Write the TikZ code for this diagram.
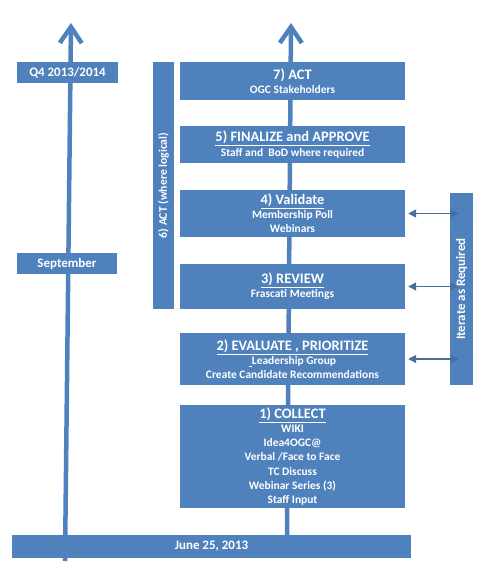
\documentclass[tikz,border=0pt]{standalone}
\usepackage{fontspec}
\setmainfont{Carlito}
\usetikzlibrary{arrows.meta}
\definecolor{steel}{HTML}{4F81BD}
\definecolor{steeldark}{HTML}{4A6D9C}
\newcommand\phasetitle[1]{{\fontsize{14.5}{17}\selectfont\bfseries\underline{#1}}\\}

\begin{document}
\begin{tikzpicture}[
  x=1bp, y=-1bp,
  phase/.style={fill=steel, text=white, align=center,
                inner sep=0pt, minimum width=225bp,
                font=\fontsize{11.5}{14.2}\selectfont\bfseries},
  datebox/.style={fill=steel, text=white, inner sep=0pt,
                  minimum height=21bp,
                  font=\fontsize{13}{15}\selectfont\bfseries},
  sidebar/.style={fill=steel, text=white, inner sep=0pt, rotate=90,
                  font=\fontsize{13}{15}\selectfont\bfseries},
  timeline/.style={draw=steel, line width=4.5bp,
                   -{Straight Barb[length=16bp,width=22bp]}},
  swap/.style={{Triangle[length=8bp,width=8bp]}-{Triangle[length=8bp,width=8bp]},
               draw=steeldark, fill=steeldark, line width=1.4bp},
]
\useasboundingbox (0,0) rectangle (487,574);

% the two time lines, behind everything
\coordinate (baseL) at (65,561);
\coordinate (tipL) at (71,23);
\coordinate (baseM) at (287,540);
\coordinate (tipM) at (291,23);
\draw[timeline] (baseL) -- (tipL);
\draw[timeline] (baseM) -- (tipM);

% milestones on the left
\node[datebox, minimum width=101bp] (q4) at (67.5,72.5) {Q4 2013/2014};
\node[datebox, minimum width=100bp] (sept) at (67,263.5) {September};
\node[datebox, minimum width=399bp, minimum height=23bp] (june) at (211.5,546.5) {June 25, 2013};

% the phases, bottom to top
\node[phase, minimum height=103bp] (col1) at (292.5,456.5)
  {\phasetitle{1) COLLECT}
   WIKI\\ Idea4OGC@\\ Verbal /Face to Face\\ TC Discuss\\
   Webinar Series (3)\\ Staff Input};
\node[phase, minimum height=52bp] (eval2) at (292.5,359)
  {\phasetitle{2) EVALUATE , PRIORITIZE}
   \underline{\hspace{3bp}}Leadership Group\\ Create Candidate Recommendations};
\node[phase, minimum height=45bp] (rev3) at (292.5,286.5)
  {\phasetitle{3) REVIEW}
   Frascati Meetings};
\node[phase, minimum height=47bp] (val4) at (292.5,213.5)
  {\phasetitle{4) Validate}
   Membership Poll\\ Webinars};
\node[phase, minimum height=37bp] (fin5) at (292.5,144.5)
  {\phasetitle{5) FINALIZE and APPROVE}
   Staff and\ \ BoD where required};
\node[phase, minimum height=38bp] (act7) at (292.5,81)
  {{\fontsize{14.5}{17}\selectfont\bfseries 7) ACT}\\
   OGC Stakeholders};

% side bars
\node[sidebar, minimum width=247bp, minimum height=21bp,
      font=\fontsize{11.7}{14}\selectfont\bfseries] (act6) at (163.5,185.5)
  {6) ACT (where logical)};
\node[sidebar, minimum width=192bp, minimum height=23bp] (iter) at (461.5,289)
  {Iterate as Required};

% iterate arrows
\coordinate (v4r) at (val4.east -| iter.west);
\coordinate (r3r) at (rev3.east -| iter.west);
\coordinate (e2r) at (eval2.east -| iter.west);
\draw[swap] ([xshift=3bp]val4.east) -- ([xshift=-3bp]v4r);
\draw[swap] ([xshift=3bp]rev3.east) -- ([xshift=-3bp]r3r);
\draw[swap] ([xshift=3bp]eval2.east) -- ([xshift=-3bp]e2r);
\end{tikzpicture}
\end{document}
